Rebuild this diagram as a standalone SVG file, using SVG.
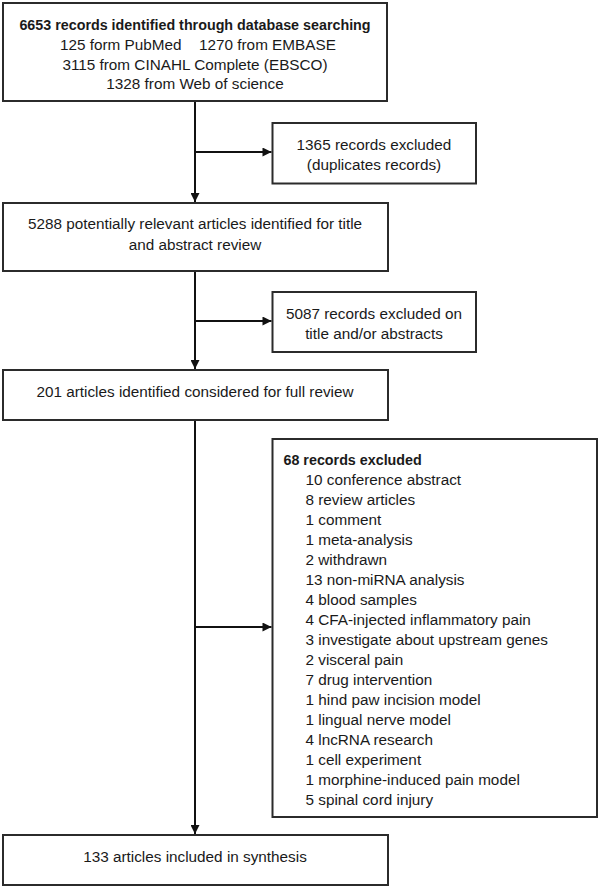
<svg xmlns="http://www.w3.org/2000/svg" width="600" height="888" viewBox="0 0 600 888">
<style>
.box{fill:#fff;stroke:#2b2b2b;stroke-width:2}
.t{font-family:"Liberation Sans",Arial,sans-serif;font-size:15.3px;fill:#1a1a1a}
.c{text-anchor:middle}
.b{font-weight:bold;font-size:14.3px}
.ln{stroke:#111;stroke-width:2;fill:none}
</style>
<defs>
<marker id="ah" viewBox="0 0 10 10" refX="10" refY="5" markerWidth="10" markerHeight="9" markerUnits="userSpaceOnUse" orient="auto">
<path d="M0,0 L10,5 L0,10 Z" fill="#111"/>
</marker>
</defs>
<rect width="600" height="888" fill="#fff"/>
<g id="connectors">
<line class="ln" x1="195" y1="101" x2="195" y2="202" marker-end="url(#ah)"/>
<line class="ln" x1="195" y1="152" x2="271.5" y2="152" marker-end="url(#ah)"/>
<line class="ln" x1="195" y1="271" x2="195" y2="369" marker-end="url(#ah)"/>
<line class="ln" x1="195" y1="321" x2="271.5" y2="321" marker-end="url(#ah)"/>
<line class="ln" x1="195" y1="420" x2="195" y2="834" marker-end="url(#ah)"/>
<line class="ln" x1="195" y1="627" x2="271.5" y2="627" marker-end="url(#ah)"/>
</g>
<g id="n1">
<rect class="box" x="3" y="3" width="384" height="98"/>
<text class="t c b" x="195" y="30">6653 records identified through database searching</text>
<text class="t" y="50"><tspan x="60">125 form PubMed</tspan><tspan x="199">1270 from EMBASE</tspan></text>
<text class="t c" x="195" y="69.5">3115 from CINAHL Complete (EBSCO)</text>
<text class="t c" x="195" y="89">1328 from Web of science</text>
</g>
<g id="n2">
<rect class="box" x="272.5" y="123" width="203.5" height="60.5"/>
<text class="t c" x="374" y="150">1365 records excluded</text>
<text class="t c" x="374" y="170">(duplicates records)</text>
</g>
<g id="n3">
<rect class="box" x="3" y="203" width="385" height="68"/>
<text class="t c" x="195" y="228.5">5288 potentially relevant articles identified for title</text>
<text class="t c" x="195" y="249.5">and abstract review</text>
</g>
<g id="n4">
<rect class="box" x="272.5" y="292" width="203.5" height="60"/>
<text class="t c" x="374" y="318.5">5087 records excluded on</text>
<text class="t c" x="374" y="338.5">title and/or abstracts</text>
</g>
<g id="n5">
<rect class="box" x="3" y="370" width="385" height="50"/>
<text class="t c" x="195" y="397">201 articles identified considered for full review</text>
</g>
<g id="n6">
<rect class="box" x="272.5" y="439" width="324.5" height="378"/>
<text class="t b" x="283.5" y="465">68 records excluded</text>
<text class="t" x="305.5" y="485">10 conference abstract</text>
<text class="t" x="305.5" y="505">8 review articles</text>
<text class="t" x="305.5" y="525">1 comment</text>
<text class="t" x="305.5" y="545">1 meta-analysis</text>
<text class="t" x="305.5" y="565">2 withdrawn</text>
<text class="t" x="305.5" y="585">13 non-miRNA analysis</text>
<text class="t" x="305.5" y="605">4 blood samples</text>
<text class="t" x="305.5" y="625">4 CFA-injected inflammatory pain</text>
<text class="t" x="305.5" y="645">3 investigate about upstream genes</text>
<text class="t" x="305.5" y="665">2 visceral pain</text>
<text class="t" x="305.5" y="685">7 drug intervention</text>
<text class="t" x="305.5" y="705">1 hind paw incision model</text>
<text class="t" x="305.5" y="725">1 lingual nerve model</text>
<text class="t" x="305.5" y="745">4 lncRNA research</text>
<text class="t" x="305.5" y="765">1 cell experiment</text>
<text class="t" x="305.5" y="785">1 morphine-induced pain model</text>
<text class="t" x="305.5" y="805">5 spinal cord injury</text>
</g>
<g id="n7">
<rect class="box" x="3" y="835" width="385" height="50"/>
<text class="t c" x="195" y="861.5">133 articles included in synthesis</text>
</g>
</svg>
